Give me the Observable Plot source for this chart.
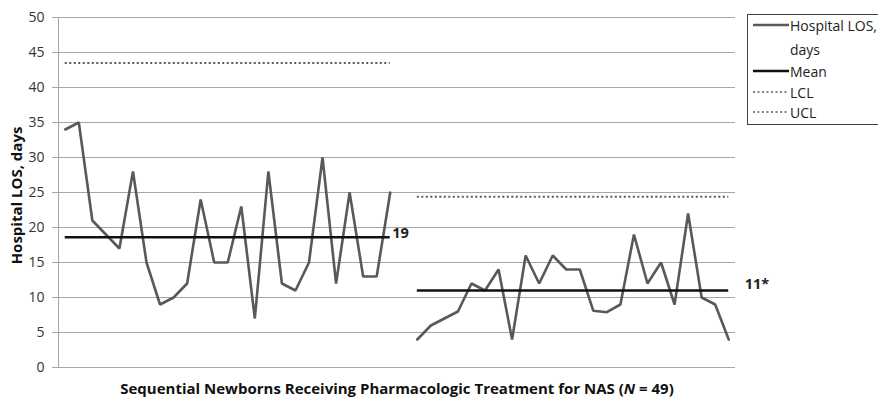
<!DOCTYPE html>
<html>
<head>
<meta charset="utf-8">
<script src="https://cdn.jsdelivr.net/npm/d3@7"></script>
<script src="https://cdn.jsdelivr.net/npm/@observablehq/plot@0.6"></script>
<style>
  html, body { margin: 0; padding: 0; background: #fff; overflow: hidden; width: 878px; height: 401px; }
  #wrap { position: relative; width: 878px; height: 401px; font-family: "Open Sans", Lato, sans-serif; }
  #legend { position: absolute; left: 747px; top: 14px; width: 170px; height: 111px; border: 1px solid #404040; box-sizing: border-box; background: #fff; font-size: 14px; color: #222; }
  .row { position: absolute; left: 5px; display: flex; align-items: center; height: 20px; white-space: nowrap; }
  .row svg { width: 36px; height: 20px; margin-right: 1px; }
</style>
</head>
<body>
<div id="wrap">
  <div id="chart"></div>
  <div id="legend"></div>
</div>
<script>
// ---- data ----
const losPhase1 = [34, 35, 21, 19, 17, 28, 15, 9, 10, 12, 24, 15, 15, 23, 7, 28, 12, 11, 15, 30, 12, 25, 13, 13, 25];
const losPhase2 = [4, 6, 7, 8, 12, 11, 14, 4, 16, 12, 16, 14, 14, 8.1, 7.9, 9, 19, 12, 15, 9, 22, 10, 9, 4];
const phaseStart = [1, 27];
const meanValues = [18.6, 11.0];
const uclValues = [43.5, 24.4];
const meanLabels = ["19", "11*"];
const yTicks = [0, 5, 10, 15, 20, 25, 30, 35, 40, 45, 50];
const yTitle = "Hospital LOS, days";
const xTitleBefore = "Sequential Newborns Receiving Pharmacologic Treatment for NAS (";
const xTitleItalic = "N";
const xTitleAfter = " = 49)";
const legendLabels = ["Hospital LOS,", "days", "Mean", "LCL", "UCL"];

// ---- build tables ----
const xTitle = xTitleBefore + xTitleItalic + xTitleAfter;
const phases = [losPhase1, losPhase2];
const points = phases.flatMap((arr, p) => arr.map((v, i) => ({phase: p, idx: phaseStart[p] + i, los: v})));
const segments = phases.map((arr, p) => ({
  phase: p,
  start: phaseStart[p],
  end: phaseStart[p] + arr.length - 1,
  mean: meanValues[p],
  ucl: uclValues[p],
  label: meanLabels[p]
}));

const font = "'Open Sans', Lato, sans-serif";
const chart = Plot.plot({
  width: 878,
  height: 401,
  marginLeft: 58,
  marginRight: 143,
  marginTop: 17,
  marginBottom: 34,
  style: {fontFamily: font, background: "#fff", overflow: "visible"},
  x: {domain: [0.5, 50.5], axis: null},
  y: {domain: [0, 50]},
  marks: [
    Plot.gridY(yTicks, {stroke: "#a6a6a6", strokeOpacity: 1, strokeWidth: 1}),
    Plot.axisY(yTicks, {tickSize: 6, tickPadding: 8, stroke: "#a6a6a6", fill: "#333", fontSize: 14, label: null}),
    Plot.ruleX([0.5], {y1: 0, y2: 50, stroke: "#a6a6a6", strokeWidth: 1}),
    Plot.ruleY(segments, {y: "ucl", x1: "start", x2: "end", stroke: "#595959", strokeWidth: 2, strokeDasharray: "2,2.5"}),
    Plot.line(points, {x: "idx", y: "los", z: "phase", stroke: "#595959", strokeWidth: 2.6, strokeLinejoin: "miter"}),
    Plot.ruleY(segments, {y: "mean", x1: "start", x2: "end", stroke: "#111", strokeWidth: 2.6}),
    Plot.text(segments.filter(d => d.phase === 0), {x: "end", y: "mean", text: "label", textAnchor: "start", dx: 2, dy: -4, fontWeight: "bold", fontSize: 14.5, fill: "#222"}),
    Plot.text(segments.filter(d => d.phase === 1), {x: "end", y: "mean", text: "label", textAnchor: "start", dx: 16, dy: -6, fontWeight: "bold", fontSize: 14.5, fill: "#222"}),
    Plot.text([yTitle], {frameAnchor: "left", textAnchor: "middle", lineAnchor: "middle", rotate: -90, dx: -41, dy: 3, fontWeight: "bold", fontSize: 15, fill: "#111"}),
    Plot.text([xTitle], {frameAnchor: "bottom", textAnchor: "middle", lineAnchor: "middle", dy: 22, fontWeight: "bold", fontSize: 15, fill: "#111"})
  ]
});
document.getElementById("chart").appendChild(chart);

// italic N in the x title
d3.select(chart).selectAll("text").each(function() {
  const t = d3.select(this);
  if (t.text() === xTitle) {
    t.text(null);
    t.append("tspan").text(xTitleBefore);
    t.append("tspan").attr("font-style", "italic").text(xTitleItalic);
    t.append("tspan").text(xTitleAfter);
  }
});

// legend
const legendStyles = [
  {stroke: "#595959", width: 2.6, dash: null},
  null,
  {stroke: "#111", width: 2.6, dash: null},
  {stroke: "#595959", width: 1.6, dash: "2,2.5"},
  {stroke: "#595959", width: 1.6, dash: "2,2.5"}
];
const rowTops = [0, 24, 46, 67, 87];
const legend = d3.select("#legend");
legendLabels.forEach((lab, i) => {
  const row = legend.append("div").attr("class", "row").style("top", rowTops[i] + "px");
  const svg = row.append("svg");
  const s = legendStyles[i];
  if (s) {
    svg.append("line").attr("x1", 0).attr("x2", 36).attr("y1", 10).attr("y2", 10)
      .attr("stroke", s.stroke).attr("stroke-width", s.width).attr("stroke-dasharray", s.dash);
  }
  row.append("span").text(lab);
});
</script>
</body>
</html>
